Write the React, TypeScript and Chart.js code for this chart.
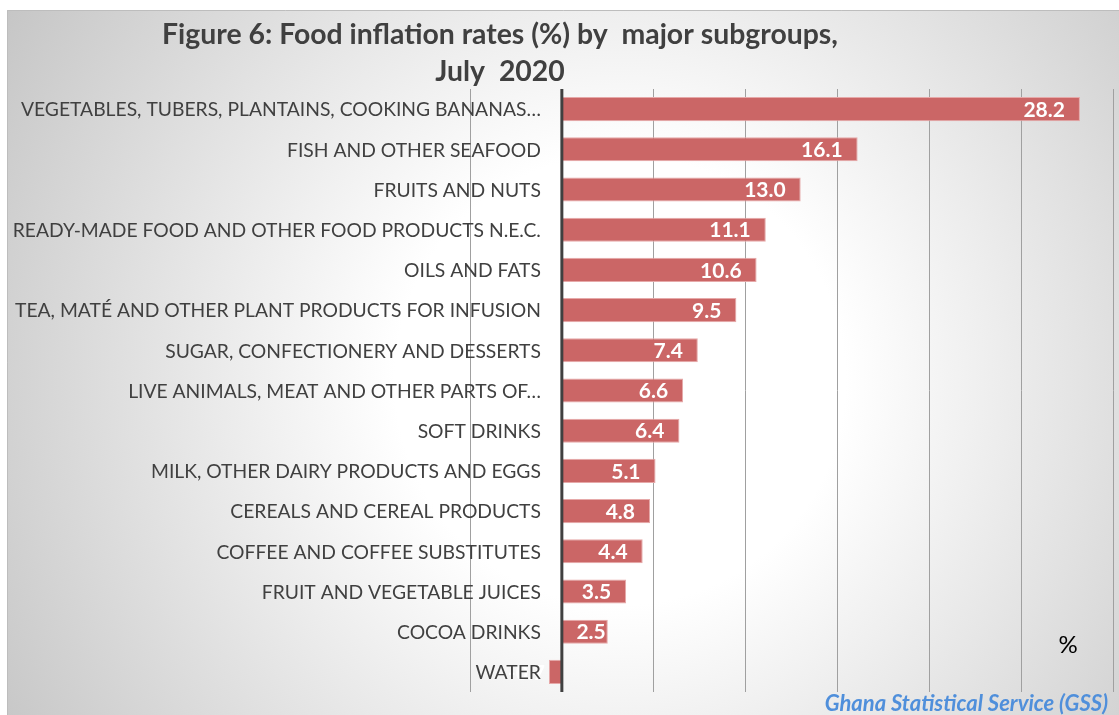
import React, { useEffect, useRef } from "react";
import { Chart, registerables } from "chart.js";

Chart.register(...registerables);

const categories: string[] = [
  "VEGETABLES, TUBERS, PLANTAINS, COOKING BANANAS…",
  "FISH AND OTHER SEAFOOD",
  "FRUITS AND NUTS",
  "READY-MADE FOOD AND OTHER FOOD PRODUCTS N.E.C.",
  "OILS AND FATS",
  "TEA, MATÉ AND OTHER PLANT PRODUCTS FOR INFUSION",
  "SUGAR, CONFECTIONERY AND DESSERTS",
  "LIVE ANIMALS, MEAT AND OTHER PARTS OF…",
  "SOFT DRINKS",
  "MILK, OTHER DAIRY PRODUCTS AND EGGS",
  "CEREALS AND CEREAL PRODUCTS",
  "COFFEE AND COFFEE SUBSTITUTES",
  "FRUIT AND VEGETABLE JUICES",
  "COCOA DRINKS",
  "WATER",
];

const inflationRates: number[] = [28.2, 16.1, 13.0, 11.1, 10.6, 9.5, 7.4, 6.6, 6.4, 5.1, 4.8, 4.4, 3.5, 2.5, -0.7];

const titleLines: string[] = ["Figure 6: Food inflation rates (%) by  major subgroups,", "July  2020"];
const unitLabel = "%";
const sourceLabel = "Ghana Statistical Service (GSS)";
const xMin = -5;
const xMax = 30;
const xStep = 5;

const FONT = "Lato, 'Open Sans', sans-serif";

export default function App() {
  const canvasRef = useRef<HTMLCanvasElement | null>(null);

  useEffect(() => {
    const canvas = canvasRef.current;
    if (!canvas) return;

    const backgroundPlugin = {
      id: "bgPlugin",
      beforeDraw(chart: any) {
        const { ctx, width, height } = chart;
        ctx.save();
        ctx.fillStyle = "#ffffff";
        ctx.fillRect(0, 0, width, height);
        const g = ctx.createRadialGradient(620, 380, 0, 620, 380, 750);
        g.addColorStop(0, "#ffffff");
        g.addColorStop(0.3, "#ffffff");
        g.addColorStop(1, "#c2c2c2");
        ctx.fillStyle = g;
        ctx.fillRect(7, 10, width - 7, height - 10);
        ctx.strokeStyle = "#bdbdbd";
        ctx.lineWidth = 1;
        ctx.beginPath();
        ctx.moveTo(7.5, height);
        ctx.lineTo(7.5, 10.5);
        ctx.lineTo(width, 10.5);
        ctx.stroke();
        ctx.restore();
      },
    };

    const overlayPlugin = {
      id: "overlayPlugin",
      afterDatasetsDraw(chart: any) {
        const { ctx, chartArea } = chart;
        const xScale = chart.scales.x;
        const yScale = chart.scales.y;
        const meta = chart.getDatasetMeta(0);
        ctx.save();
        // value labels
        ctx.font = `bold 21px ${FONT}`;
        ctx.fillStyle = "#ffffff";
        ctx.textBaseline = "middle";
        meta.data.forEach((bar: any, i: number) => {
          const v = inflationRates[i];
          const txt = v.toFixed(1);
          ctx.textAlign = "right";
          const tw = ctx.measureText(txt).width;
          const bw = Math.abs(bar.x - bar.base);
          if (v >= 0) {
            const pad = bw < tw + 30 ? 2 : 15;
            ctx.fillText(txt, bar.x - pad, bar.y + 1);
          } else {
            ctx.fillText(txt, bar.x - 4, bar.y + 1);
          }
        });
        // zero axis line
        const x0 = xScale.getPixelForValue(0);
        ctx.strokeStyle = "#404040";
        ctx.lineWidth = 3;
        ctx.beginPath();
        ctx.moveTo(x0, chartArea.top);
        ctx.lineTo(x0, chartArea.bottom);
        ctx.stroke();
        // category labels next to the zero axis
        ctx.font = `19.3px ${FONT}`;
        ctx.fillStyle = "#404040";
        ctx.textAlign = "right";
        categories.forEach((c, i) => {
          const y = yScale.getPixelForTick(i);
          ctx.fillText(c, x0 - 21, y + 1);
        });
        ctx.restore();
      },
      afterDraw(chart: any) {
        const { ctx } = chart;
        ctx.save();
        ctx.fillStyle = "#404040";
        ctx.font = `bold 28.4px ${FONT}`;
        ctx.textAlign = "center";
        ctx.textBaseline = "middle";
        ctx.fillText(titleLines[0], 500, 35);
        ctx.fillText(titleLines[1], 500, 72);
        ctx.fillStyle = "#000000";
        ctx.font = `24px ${FONT}`;
        ctx.fillText(unitLabel, 1068, 645);
        ctx.fillStyle = "#4F8FDB";
        ctx.font = `italic bold 22px ${FONT}`;
        ctx.textAlign = "right";
        ctx.fillText(sourceLabel, 1108, 704);
        ctx.restore();
      },
    };

    const chart = new Chart(canvas, {
      type: "bar",
      data: {
        labels: categories,
        datasets: [
          {
            data: inflationRates,
            backgroundColor: "#CB6666",
            borderColor: "#E6A9A9",
            borderWidth: 1,
            barPercentage: 0.6,
            categoryPercentage: 1,
          },
        ],
      },
      options: {
        indexAxis: "y",
        animation: false,
        responsive: false,
        devicePixelRatio: 1,
        layout: { padding: { top: 89, bottom: 23, left: 0, right: 6 } },
        plugins: {
          legend: { display: false },
          tooltip: { enabled: false },
          title: { display: false },
        },
        scales: {
          x: {
            type: "linear",
            min: xMin,
            max: xMax,
            ticks: { display: false, stepSize: xStep },
            grid: { color: "#a0a0a0", lineWidth: 1, drawTicks: false },
            border: { display: false },
            afterFit(scale: any) {
              scale.height = 0;
            },
          },
          y: {
            type: "category",
            grid: { display: false, drawTicks: false },
            border: { display: false },
            ticks: { display: false },
            afterFit(scale: any) {
              scale.width = 470;
            },
          },
        },
      },
      plugins: [backgroundPlugin, overlayPlugin],
    } as any);

    return () => chart.destroy();
  }, []);

  return (
    <div style={{ position: "fixed", left: 0, top: 0, width: 1119, height: 715 }}>
      <canvas ref={canvasRef} width={1119} height={715} style={{ width: 1119, height: 715 }} />
    </div>
  );
}
